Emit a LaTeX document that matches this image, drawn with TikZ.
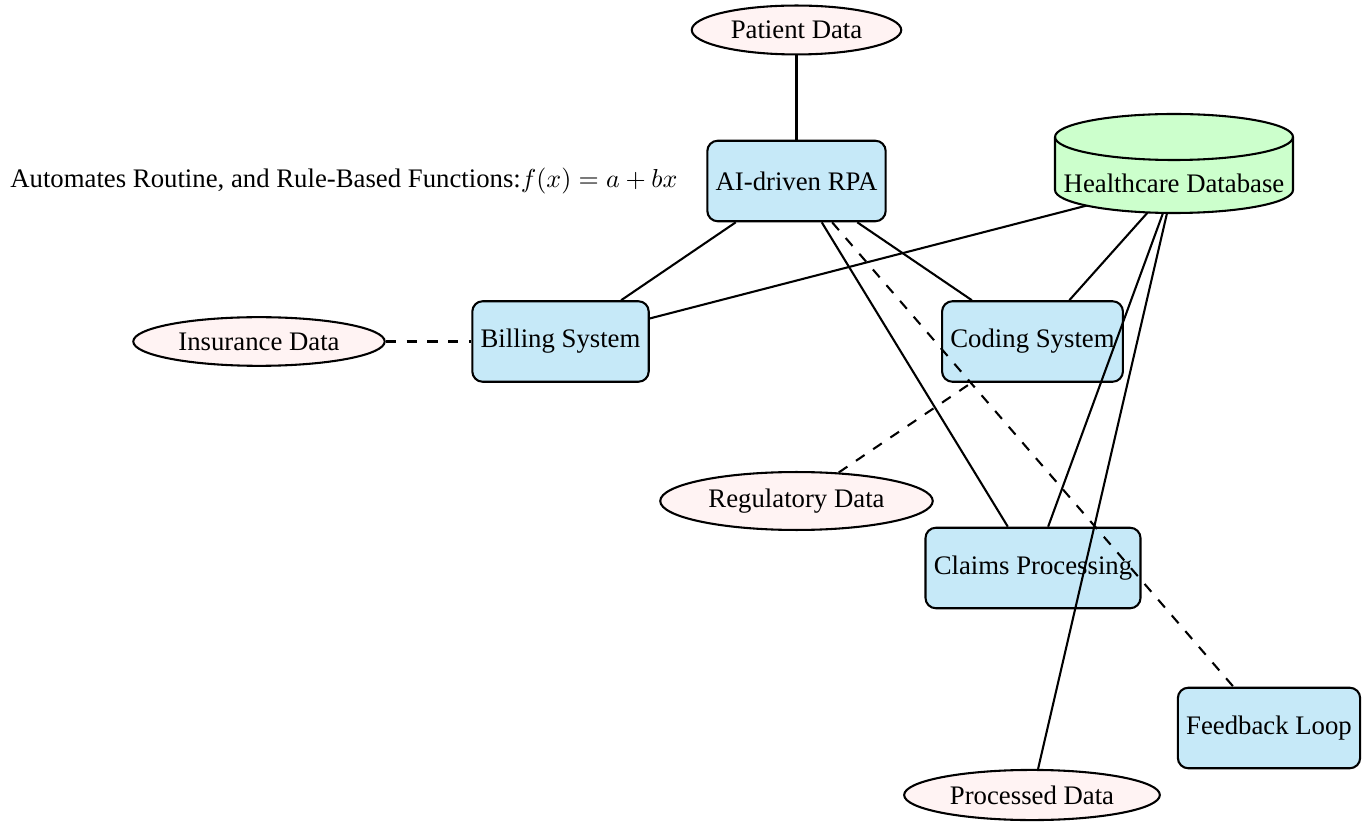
\documentclass[tikz,border=0pt]{standalone}
\usepackage{fontspec}
\setmainfont{Liberation Serif}
\usetikzlibrary{shapes.geometric}

\definecolor{procblue}{RGB}{198,233,248}
\definecolor{datapink}{RGB}{255,243,243}
\definecolor{dbgreen}{RGB}{204,255,204}

\pgfdeclarelayer{shapes}
\pgfdeclarelayer{edges}
\pgfdeclarelayer{store}
\pgfsetlayers{shapes,edges,store,main}

\begin{document}
\begin{tikzpicture}[x=0.385pt, y=-0.385pt,
  every node/.style={font=\fontsize{10.3}{12.4}\selectfont},
  proc/.style={draw, line width=0.8pt, rounded corners=4pt, fill=procblue,
    minimum height=31pt, inner xsep=3.2pt},
  data/.style={draw, line width=0.8pt, ellipse, fill=datapink, inner sep=3.2pt},
  drum/.style={draw, line width=0.8pt, fill=dbgreen},
  link/.style={line width=0.8pt},
  weak/.style={line width=0.8pt, dash pattern=on 4pt off 4pt}]

  \useasboundingbox (0,0) rectangle (1367,822);

  \begin{pgfonlayer}{shapes}
    % processes
    \node[proc] (ai) at (796.5,181) {AI-driven RPA};
    \node[proc] (billing) at (560.5,341.5) {Billing System};
    \node[proc] (coding) at (1032.5,341.5) {Coding System};
    \node[proc] (claims) at (1033,568) {Claims Processing};
    \node[proc] (feedback) at (1269,728) {Feedback Loop};

    % data sources
    \node[data] (patient) at (796.5,30) {Patient Data};
    \node[data] (insurance) at (259,341.5) {Insurance Data};
    \node[data] (regulatory) at (796.5,501) {Regulatory Data};
    \node[data] (processed) at (1032,795) {Processed Data};
  \end{pgfonlayer}

  % database label
  \node (db) at (1174,183) {Healthcare Database};

  % database drum
  \begin{pgfonlayer}{store}
    \path[drum] (1055,137) -- (1055,190)
      arc[start angle=180, end angle=0, x radius=119, y radius=23]
      -- (1293,137)
      arc[start angle=0, end angle=-180, x radius=119, y radius=23] -- cycle;
    \draw[line width=0.8pt] (1055,137)
      arc[start angle=180, end angle=0, x radius=119, y radius=23];
  \end{pgfonlayer}

  % annotation
  \node[anchor=east, inner sep=0pt] (note) at (678,181)
    {Automates Routine, and Rule-Based Functions:$f(x)=a+bx$};

  % connections
  \begin{pgfonlayer}{edges}
    \draw[link] (patient) -- (ai);
    \draw[link] (ai) -- (billing);
    \draw[link] (ai) -- (coding);
    \draw[link] (ai) -- (claims);
    \draw[weak] (ai) -- (feedback);
    \draw[link] (billing) -- (db);
    \draw[link] (coding) -- (db);
    \draw[link] (claims) -- (db);
    \draw[link] (processed) -- (db);
    \draw[weak] (insurance) -- (billing);
    \draw[weak] (regulatory) -- (coding);
  \end{pgfonlayer}
\end{tikzpicture}
\end{document}
